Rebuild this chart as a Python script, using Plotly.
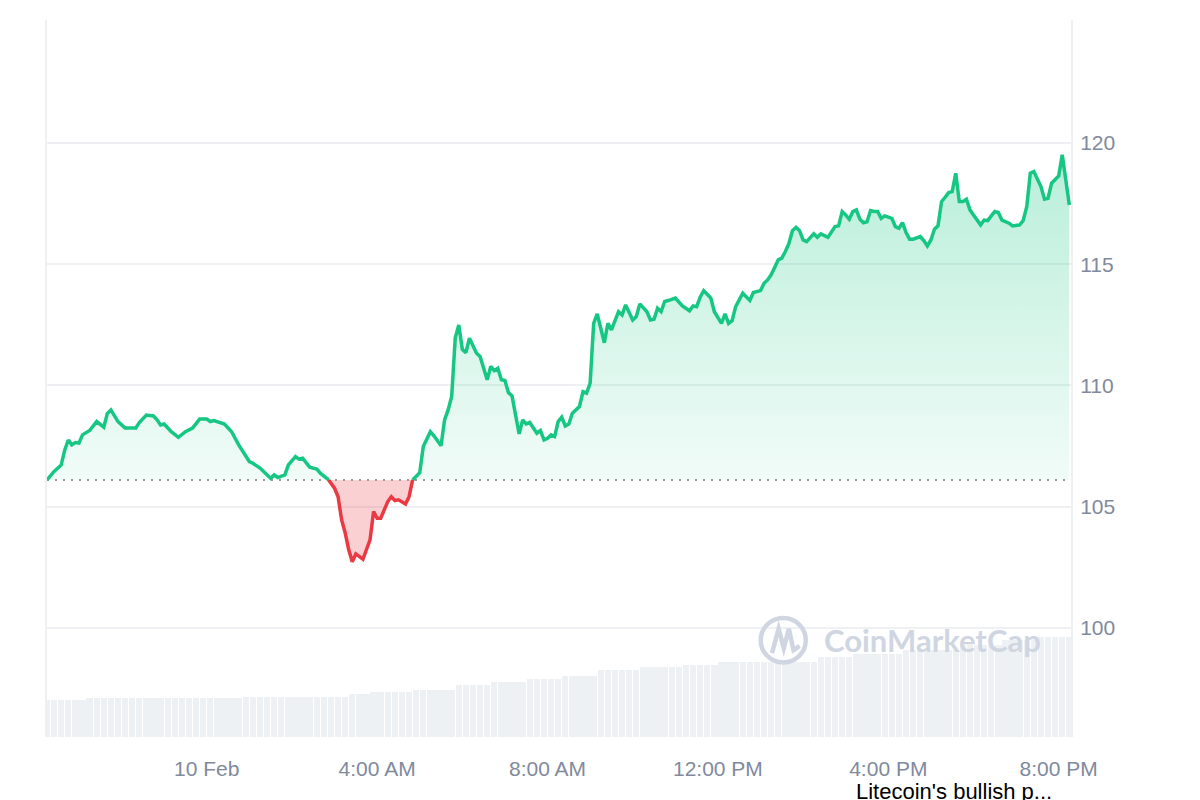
import datetime as dt
import plotly.graph_objects as go

# ---------------- data ----------------
start_time = dt.datetime(2025, 2, 9, 20, 15)
end_time = dt.datetime(2025, 2, 10, 20, 17, 20)

# minutes after start_time
minutes = [0, 10, 20, 25, 30, 35, 40, 45, 50, 60, 70, 75, 80, 85, 90, 100, 110, 125, 130, 140,
           150, 155, 160, 165, 175, 185, 195, 205, 215, 225, 230, 235, 245, 250, 260, 270, 280, 285, 290, 300,
           315, 320, 325, 335, 340, 350, 355, 360, 370, 380, 385, 395, 405, 410, 415, 420, 425, 430, 435, 445,
           450, 455, 460, 465, 470, 480, 485, 490, 495, 505, 510, 515, 520, 525, 530, 540, 545, 555, 560, 565,
           570, 575, 580, 585, 590, 595, 605, 610, 620, 625, 630, 635, 640, 645, 650, 655, 665, 670, 675, 680,
           690, 695, 700, 705, 710, 715, 720, 725, 730, 735, 740, 750, 755, 760, 765, 770, 775, 780, 785, 790,
           795, 805, 810, 815, 825, 830, 835, 845, 850, 855, 860, 865, 870, 875, 885, 895, 905, 910, 915, 920,
           925, 935, 940, 950, 955, 960, 965, 970, 980, 990, 995, 1005, 1010, 1015, 1020, 1030, 1035, 1040, 1045, 1050,
           1055, 1060, 1065, 1070, 1075, 1080, 1085, 1090, 1100, 1105, 1110, 1115, 1120, 1125, 1130, 1135, 1140, 1145, 1150, 1155,
           1160, 1165, 1170, 1175, 1180, 1190, 1195, 1200, 1205, 1210, 1215, 1220, 1230, 1235, 1240, 1245, 1250, 1255, 1260, 1265,
           1270, 1275, 1280, 1285, 1290, 1295, 1300, 1305, 1310, 1315, 1320, 1325, 1330, 1335, 1340, 1345, 1355, 1360, 1370, 1375,
           1380, 1385, 1390, 1400, 1405, 1410, 1415, 1420, 1425, 1430, 1435, 1440]

prices = [106.10, 106.45, 106.72, 107.34, 107.75, 107.55, 107.64, 107.62, 107.96, 108.14,
          108.51, 108.37, 108.28, 108.85, 108.99, 108.51, 108.24, 108.24, 108.47, 108.78,
          108.74, 108.58, 108.37, 108.41, 108.09, 107.86, 108.09, 108.24, 108.61, 108.61,
          108.51, 108.55, 108.44, 108.41, 108.09, 107.55, 107.09, 106.86, 106.79, 106.59,
          106.17, 106.31, 106.20, 106.31, 106.72, 107.06, 106.96, 107.00, 106.63, 106.55,
          106.38, 106.17, 105.76, 105.41, 104.45, 103.92, 103.22, 102.73, 103.05, 102.83,
          103.22, 103.63, 104.80, 104.52, 104.52, 105.21, 105.41, 105.25, 105.28, 105.11,
          105.41, 106.10, 106.24, 106.40, 107.48, 108.09, 107.92, 107.51, 108.58, 108.99,
          109.54, 111.95, 112.49, 111.49, 111.35, 111.95, 111.33, 111.19, 110.23, 110.78,
          110.61, 110.71, 110.23, 110.20, 109.70, 109.57, 108.00, 108.58, 108.41, 108.47,
          108.03, 108.14, 107.75, 107.82, 107.96, 107.89, 108.51, 108.69, 108.33, 108.41,
          108.85, 109.13, 109.74, 109.68, 110.09, 112.56, 112.95, 112.36, 111.76, 112.56,
          112.29, 113.04, 112.91, 113.32, 112.70, 112.84, 113.36, 113.04, 112.70, 112.73,
          113.18, 113.04, 113.46, 113.50, 113.60, 113.28, 113.08, 113.28, 113.25, 113.64,
          113.91, 113.60, 113.04, 112.56, 112.95, 112.56, 112.67, 113.25, 113.80, 113.50,
          113.83, 113.91, 114.21, 114.35, 114.56, 115.18, 115.25, 115.52, 115.86, 116.38,
          116.52, 116.38, 116.00, 115.93, 116.07, 116.25, 116.11, 116.25, 116.11, 116.34,
          116.55, 116.58, 117.17, 117.03, 116.85, 117.17, 117.24, 116.85, 116.71, 116.75,
          117.21, 117.17, 117.17, 116.89, 116.99, 116.89, 116.55, 116.48, 116.71, 116.30,
          116.03, 116.03, 116.14, 115.97, 115.75, 116.00, 116.44, 116.58, 117.58, 117.76,
          117.95, 117.99, 118.75, 117.58, 117.58, 117.68, 117.24, 117.03, 116.85, 116.62,
          116.82, 116.80, 116.99, 117.17, 117.13, 116.82, 116.69, 116.58, 116.62, 116.80,
          117.37, 118.75, 118.82, 118.20, 117.68, 117.72, 118.34, 118.50, 118.64, 119.51,
          118.47, 117.44]

# 24h volume (millions USD), one bar every 10 minutes from start_time
volume_step_minutes = 10
volumes = [370, 370, 370, 370, 370, 370,
           390, 390, 390, 390, 390, 390, 390, 390, 390, 390, 390, 390, 390, 390, 390, 390, 390, 390, 390, 390, 390, 390,
           405, 405, 405, 405, 405, 405, 405, 405, 405, 405, 405, 405, 405, 405, 405,
           430, 430, 430,
           450, 450, 450, 450, 450, 450,
           470, 470, 470, 470, 470, 470,
           520, 520, 520, 520, 520,
           550, 550, 550, 550, 550,
           580, 580, 580, 580, 580,
           610, 610, 610, 610, 610,
           670, 670, 670, 670, 670, 670,
           700, 700, 700, 700, 700, 700,
           720, 720, 720, 720, 720,
           750, 750, 750, 750, 750, 750, 750, 750, 750, 750, 750, 750, 750, 750,
           800, 800, 800, 800, 800,
           830, 830, 830, 830, 830, 830, 830,
           870, 870, 870, 870, 870, 870, 870, 870,
           920, 920, 920, 920, 920, 920,
           970, 970, 970, 970, 970,
           1000, 1000, 1000, 1000, 1000]

tick_times = ["2025-02-10 00:00", "2025-02-10 04:00", "2025-02-10 08:00",
              "2025-02-10 12:00", "2025-02-10 16:00", "2025-02-10 20:00"]
tick_labels = ["10 Feb", "4:00 AM", "8:00 AM", "12:00 PM", "4:00 PM", "8:00 PM"]
price_ticks = [100, 105, 110, 115, 120]
headline = "Litecoin's bullish p..."
watermark = "CoinMarketCap"

# ---------------- styling ----------------
GREEN = "#16c784"
RED = "#ea3943"
TEXT = "#808a9d"
GRID = "#eff0f3"
MARK = "#cfd6e2"
FONT = "Liberation Sans, Arial, sans-serif"

times = [start_time + dt.timedelta(minutes=m) for m in minutes]
base = prices[0]

# insert baseline crossings so colours switch exactly at the baseline
aug_t, aug_p = [], []
for i, p in enumerate(prices):
    if i > 0:
        p0 = prices[i - 1]
        if (p0 - base) * (p - base) < 0:
            f = (base - p0) / (p - p0)
            aug_t.append(times[i - 1] + (times[i] - times[i - 1]) * f)
            aug_p.append(base)
    aug_t.append(times[i])
    aug_p.append(p)

above = [max(p, base) for p in aug_p]
below = [min(p, base) for p in aug_p]
green_line = [p if p >= base else None for p in aug_p]
red_line = [p if p <= base else None for p in aug_p]
base_line = [base] * len(aug_t)

vol_times = [start_time + dt.timedelta(minutes=volume_step_minutes * k) for k in range(len(volumes))]

fig = go.Figure()

fig.add_trace(go.Bar(x=vol_times, y=volumes, yaxis="y2",
                     width=9 * 60 * 1000, marker=dict(color="#eef1f4", line=dict(width=0)),
                     hoverinfo="skip", showlegend=False))

# green fill
fig.add_trace(go.Scatter(x=aug_t, y=base_line, mode="lines", line=dict(width=0),
                         hoverinfo="skip", showlegend=False))
fig.add_trace(go.Scatter(x=aug_t, y=above, mode="lines", line=dict(width=0), fill="tonexty",
                         fillgradient=dict(type="vertical",
                                           colorscale=[[0, "rgba(22,199,132,0.06)"],
                                                       [1, "rgba(22,199,132,0.30)"]],
                                           start=base, stop=max(prices)),
                         hoverinfo="skip", showlegend=False))
# red fill
fig.add_trace(go.Scatter(x=aug_t, y=base_line, mode="lines", line=dict(width=0),
                         hoverinfo="skip", showlegend=False))
fig.add_trace(go.Scatter(x=aug_t, y=below, mode="lines", line=dict(width=0), fill="tonexty",
                         fillcolor="rgba(234,57,67,0.24)", hoverinfo="skip", showlegend=False))

# baseline dotted line
fig.add_trace(go.Scatter(x=[start_time, end_time], y=[base, base], mode="lines",
                         line=dict(color="#9a9a9a", width=2, dash="2px,6px"),
                         hoverinfo="skip", showlegend=False))

# price lines
fig.add_trace(go.Scatter(x=aug_t, y=green_line, mode="lines", connectgaps=False,
                         line=dict(color=GREEN, width=3.5), showlegend=False))
fig.add_trace(go.Scatter(x=aug_t, y=red_line, mode="lines", connectgaps=False,
                         line=dict(color=RED, width=3.5), showlegend=False))

fig.update_layout(
    width=1200, height=800,
    margin=dict(l=47, r=129, t=20, b=63),
    paper_bgcolor="white", plot_bgcolor="white",
    font=dict(family=FONT, color=TEXT, size=21),
    showlegend=False,
    bargap=0,
    xaxis=dict(type="date", range=[start_time, end_time], showgrid=False, zeroline=False,
               showline=False, tickvals=tick_times, ticktext=tick_labels, ticks="",
               ticklabelstandoff=17, tickfont=dict(size=21, color=TEXT)),
    yaxis=dict(side="right", range=[95.5, 125.07], tickvals=price_ticks, showgrid=True,
               gridcolor=GRID, gridwidth=1.5, zeroline=False, showline=True, mirror=True,
               linecolor=GRID, linewidth=2, ticks="", ticklabelstandoff=3,
               tickfont=dict(size=21, color=TEXT)),
    yaxis2=dict(overlaying="y", range=[0, 7170], visible=False, fixedrange=True),
    annotations=[
        dict(text=watermark, xref="paper", yref="paper", x=0.757, y=0.135,
             xanchor="left", yanchor="middle", showarrow=False,
             font=dict(family="Lato, Liberation Sans, sans-serif", size=31, weight="bold", color=MARK)),
        dict(text=headline, xref="paper", yref="paper", x=0.788, y=0,
             xanchor="left", yanchor="top", yshift=-40, showarrow=False,
             font=dict(family=FONT, size=22, color="#000000")),
    ],
    shapes=[
        dict(type="circle", xref="paper", yref="paper", x0=0.697, x1=0.741, y0=0.104, y1=0.166,
             line=dict(color=MARK, width=4.5)),
        dict(type="path", xref="paper", yref="paper",
             path="M 0.708,0.117 L 0.7145,0.151 L 0.7195,0.124 L 0.7245,0.151 L 0.729,0.121 L 0.735,0.127",
             line=dict(color=MARK, width=4.5)),
    ],
)

fig.write_html("out.html", config={"displayModeBar": False},
               post_script="document.body.style.margin='0';document.body.style.overflow='hidden';")
